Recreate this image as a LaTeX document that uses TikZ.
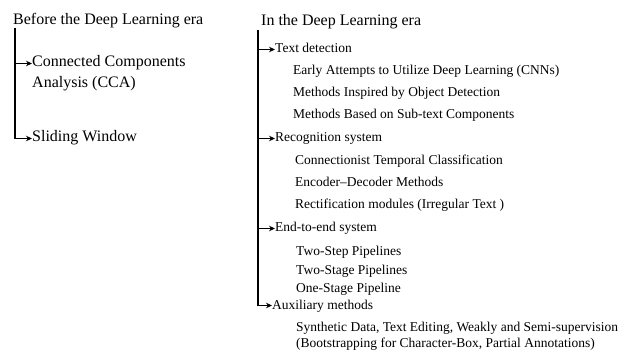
\documentclass[tikz,border=0pt]{standalone}
\usepackage{fontspec}
\setmainfont{Liberation Serif}
\usetikzlibrary{positioning, arrows.meta}
\tikzstyle{arrow} = [line width=1.1pt,-{Stealth[length=6pt,width=5.5pt]}]

\begin{document}
\begin{tikzpicture}[x=1pt, y=-1pt,
    era/.style={anchor=base west, inner sep=0pt, font=\fontsize{16}{19}\selectfont},
    old-item/.style={anchor=base west, inner sep=0pt, text height=0.7em, text depth=0pt, font=\fontsize{16}{19}\selectfont},
    new-item/.style={anchor=base west, inner sep=0pt, text height=0.7em, text depth=0pt, font=\fontsize{13.5}{16}\selectfont},
    sub-item/.style={anchor=base west, inner sep=0pt, font=\fontsize{13.5}{16}\selectfont}
  ]
  \useasboundingbox (0,0) rectangle (620,352);

  % classical methods
  \node[era] (old) at (13,25) {Before the Deep Learning era};
  \coordinate (old-spine) at (15,28);
  \node[old-item] (cca) at (32,67) {Connected Components};
  \node[sub-item, font=\fontsize{16}{19}\selectfont] (cca2) at (32,88) {Analysis (CCA)};
  \node[old-item] (sw) at (32,142) {Sliding Window};

  \draw[arrow] (old-spine |- cca.west) -- (cca.west);
  \draw[arrow] (old-spine) |- (sw.west);

  % deep learning methods
  \node[era] (new) at (261,26) {In the Deep Learning era};
  \coordinate (new-spine) at (258,30);

  \node[new-item] (det) at (275,53) {Text detection};
  \node[sub-item] (det1) at (293,75) {Early Attempts to Utilize Deep Learning (CNNs)};
  \node[sub-item] (det2) at (293,97) {Methods Inspired by Object Detection};
  \node[sub-item] (det3) at (293,119) {Methods Based on Sub-text Components};

  \node[new-item] (rec) at (275,142) {Recognition system};
  \node[sub-item] (rec1) at (295,165) {Connectionist Temporal Classification};
  \node[sub-item] (rec2) at (295,187) {Encoder--Decoder Methods};
  \node[sub-item] (rec3) at (295,209) {Rectification modules (Irregular Text )};

  \node[new-item] (e2e) at (275,232) {End-to-end system};
  \node[sub-item] (e2e1) at (296,256) {Two-Step Pipelines};
  \node[sub-item] (e2e2) at (296,274) {Two-Stage Pipelines};
  \node[sub-item] (e2e3) at (296,292) {One-Stage Pipeline};

  \node[new-item] (aux) at (272,309) {Auxiliary methods};
  \node[sub-item] (aux1) at (296,331) {Synthetic Data, Text Editing, Weakly and Semi-supervision};
  \node[sub-item] (aux2) at (296,347) {(Bootstrapping for Character-Box, Partial Annotations)};

  \draw[arrow] (new-spine |- det.west) -- (det.west);
  \draw[arrow] (new-spine |- rec.west) -- (rec.west);
  \draw[arrow] (new-spine |- e2e.west) -- (e2e.west);
  \draw[arrow] (new-spine) |- (aux.west);

\end{tikzpicture}
\end{document}
